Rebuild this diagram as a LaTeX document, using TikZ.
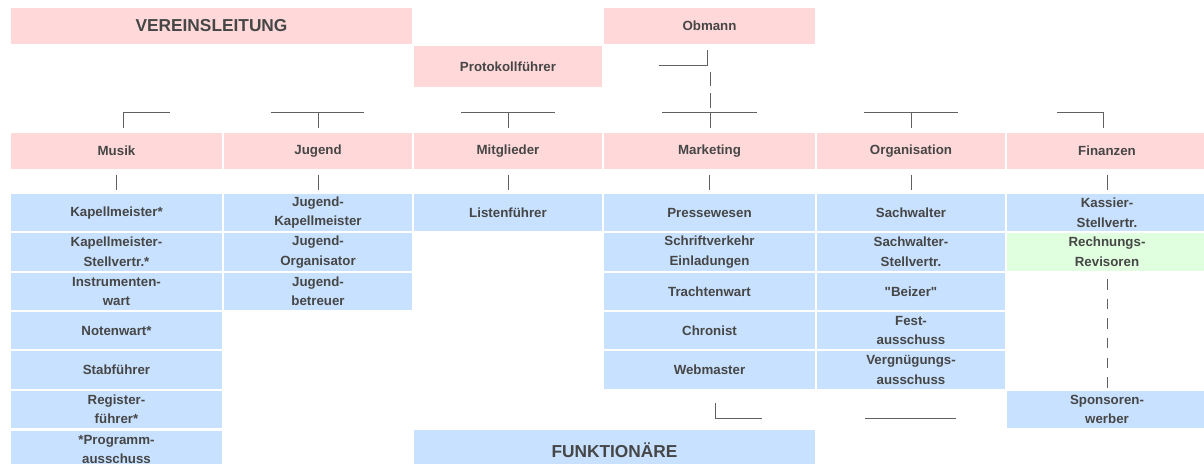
\documentclass[tikz,border=0pt]{standalone}
\usepackage{fontspec}
\setmainfont{Liberation Sans}
\definecolor{pinkc}{RGB}{255,217,217}
\definecolor{bluec}{RGB}{199,225,255}
\definecolor{greenc}{RGB}{224,255,222}
\definecolor{txt}{RGB}{70,70,70}
\definecolor{ln}{RGB}{96,96,96}
\begin{document}
\begin{tikzpicture}[x=1pt,y=-1pt,
  cell/.style={rectangle, inner sep=0pt, outer sep=0pt, align=center, text=txt,
    font=\fontsize{13.3}{19.5}\selectfont\bfseries, minimum height=37.3},
  pk/.style={cell, fill=pinkc},
  bl/.style={cell, fill=bluec},
  gr/.style={cell, fill=greenc},
  wa/.style={minimum width=211},
  wb/.style={minimum width=188},
  wc/.style={minimum width=200},
  wd/.style={minimum width=401},
  big/.style={font=\fontsize{17.3}{20}\selectfont\bfseries},
  conn/.style={draw=ln, line width=1pt}
]
\useasboundingbox (0,0) rectangle (1204,463);
\clip (0,0) rectangle (1204,463);
\fill[white] (0,0) rectangle (1204,463);

% top rows
\node[pk, wd, big, minimum height=36] (verein) at (211.5,26) {VEREINSLEITUNG};
\node[pk, wa, minimum height=36] (obmann) at (709.5,26) {Obmann};
\node[pk, wb, minimum height=41] (proto) at (508,66.5) {Protokollführer};

% departments
\node[pk, wa, minimum height=36] (musik) at (116.5,151) {Musik};
\node[pk, wb, minimum height=36] (jugend) at (318,151) {Jugend};
\node[pk, wb, minimum height=36] (mitgl) at (508,151) {Mitglieder};
\node[pk, wa, minimum height=36] (marketing) at (709.5,151) {Marketing};
\node[pk, wb, minimum height=36] (orga) at (911,151) {Organisation};
\node[pk, wc, minimum height=36] (finanzen) at (1107,151) {Finanzen};

% Musik column
\node[bl, wa] (m1) at (116.5,212.65) {Kapellmeister*};
\node[bl, wa] (m2) at (116.5,251.95) {Kapellmeister-\\Stellvertr.*};
\node[bl, wa] (m3) at (116.5,291.35) {Instrumenten-\\wart};
\node[bl, wa] (m4) at (116.5,330.65) {Notenwart*};
\node[bl, wa] (m5) at (116.5,369.95) {Stabführer};
\node[bl, wa] (m6) at (116.5,409.35) {Register-\\führer*};
\node[bl, wa] (m7) at (116.5,449.5) {*Programm-\\ausschuss};

% Jugend column
\node[bl, wb] (j1) at (318,212.65) {Jugend-\\Kapellmeister};
\node[bl, wb] (j2) at (318,251.95) {Jugend-\\Organisator};
\node[bl, wb] (j3) at (318,291.35) {Jugend-\\betreuer};

% Mitglieder column
\node[bl, wb] (l1) at (508,212.65) {Listenführer};

% Marketing column
\node[bl, wa] (k1) at (709.5,212.65) {Pressewesen};
\node[bl, wa] (k2) at (709.5,251.95) {Schriftverkehr\\Einladungen};
\node[bl, wa] (k3) at (709.5,291.35) {Trachtenwart};
\node[bl, wa] (k4) at (709.5,330.65) {Chronist};
\node[bl, wa] (k5) at (709.5,369.95) {Webmaster};

% Organisation column
\node[bl, wb] (o1) at (911,212.65) {Sachwalter};
\node[bl, wb] (o2) at (911,251.95) {Sachwalter-\\Stellvertr.};
\node[bl, wb] (o3) at (911,291.35) {\textquotedbl Beizer\textquotedbl};
\node[bl, wb] (o4) at (911,330.65) {Fest-\\ausschuss};
\node[bl, wb] (o5) at (911,369.95) {Vergnügungs-\\ausschuss};

% Finanzen column
\node[bl, wc] (f1) at (1107,212.65) {Kassier-\\Stellvertr.};
\node[gr, wc] (f2) at (1107,251.95) {Rechnungs-\\Revisoren};
\node[bl, wc] (f6) at (1107,409.35) {Sponsoren-\\werber};

% Funktionaere
\node[bl, wd, big, minimum height=41] (funk) at (614.5,450.5) {FUNKTIONÄRE};

% ---- connectors ----
% Obmann
\coordinate (ob1) at (707,50);
\coordinate (ob2) at (707,65);
\coordinate (ob3) at (659,65);
\draw[conn] (ob1) -- (ob2) -- (ob3);
\draw[conn] (710,72) -- (710,86);
\draw[conn] (710,93) -- (710,108);
% cross above Marketing
\coordinate (mkL) at (662,112);
\coordinate (mkR) at (757,112);
\draw[conn] (mkL) -- (mkR);
\draw[conn] (710,113) -- (710,128);
% Musik
\coordinate (muR) at (170,112);
\draw[conn] (muR) -- (123,112) -- (123,128);
% Jugend
\draw[conn] (271,112) -- (364,112);
\draw[conn] (318,113) -- (318,128);
% Mitglieder
\draw[conn] (461,112) -- (555,112);
\draw[conn] (508,113) -- (508,128);
% Organisation
\draw[conn] (864,112) -- (958,112);
\draw[conn] (911,113) -- (911,128);
% Finanzen
\coordinate (fiL) at (1057,112);
\draw[conn] (fiL) -- (1103,112) -- (1103,128);

% ticks below departments
\foreach \n in {musik,jugend,mitgl,marketing,orga,finanzen}
  \draw[conn] ([yshift=-6pt]\n.south) -- ++(0,14.5);

% finance dashes
\foreach \y in {279,298.5,318,337.5,357.5,377}
  \draw[conn] (1107,\y) -- ++(0,10.5);

% bottom marks
\coordinate (bm1) at (715,403);
\coordinate (bm2) at (715,418);
\coordinate (bm3) at (762,418);
\draw[conn] (bm1) -- (bm2) -- (bm3);
\coordinate (bo1) at (865,418);
\coordinate (bo2) at (956,418);
\draw[conn] (bo1) -- (bo2);
\end{tikzpicture}
\end{document}
